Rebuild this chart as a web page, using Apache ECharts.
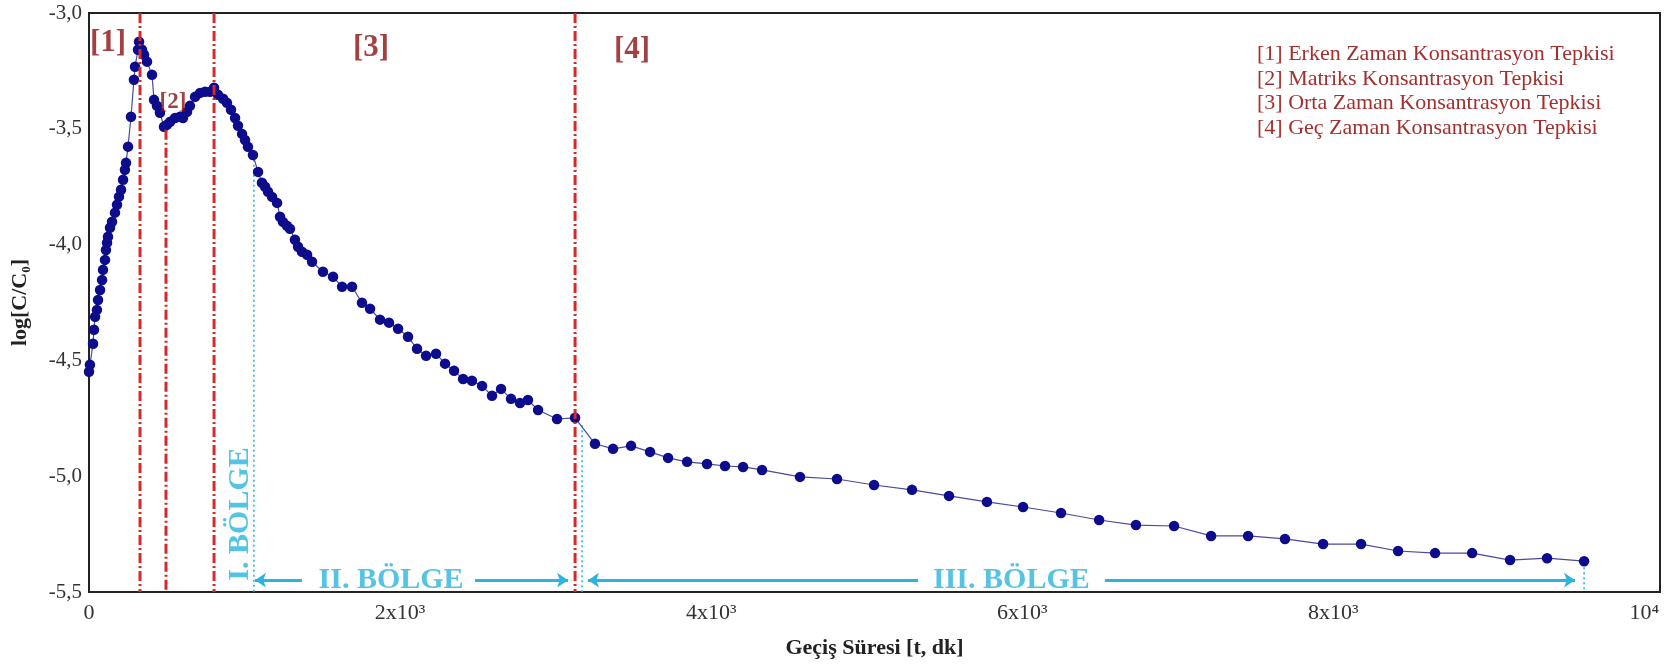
<!DOCTYPE html>
<html>
<head>
<meta charset="utf-8">
<script src="https://cdn.jsdelivr.net/npm/echarts@6/dist/echarts.min.js"></script>
<style>
html,body{margin:0;padding:0;background:#fff;}
#chart{width:1675px;height:664px;}
</style>
</head>
<body>
<div id="chart"></div>
<script>
// ---- data ----
const timeMin = [0,6,26,32,39,51,58,71,84,90,
  103,109,116,122,135,148,167,180,193,206,
  219,231,238,251,270,289,296,315,322,341,
  354,373,405,418,437,456,482,501,521,553,
  585,604,630,649,682,714,746,778,804,829,
  862,887,913,939,958,984,1003,1022,1054,1087,
  1112,1132,1151,1177,1209,1228,1247,1273,1292,1324,
  1344,1369,1402,1434,1504,1569,1627,1691,1755,1807,
  1871,1929,1987,2051,2109,2167,2231,2289,2347,2405,
  2462,2527,2591,2649,2713,2771,2822,2887,3009,3125,
  3253,3369,3485,3607,3723,3845,3973,4089,4205,4327,
  4571,4809,5047,5291,5529,5773,6005,6249,6494,6731,
  6976,7214,7452,7689,7934,8178,8416,8654,8892,9136,
  9374,9612];
const logConc = [-4.549,-4.519,-4.428,-4.368,-4.312,-4.282,-4.239,-4.196,-4.153,-4.109,
  -4.066,-4.023,-3.992,-3.966,-3.927,-3.901,-3.862,-3.828,-3.793,-3.763,
  -3.720,-3.677,-3.647,-3.577,-3.448,-3.288,-3.232,-3.159,-3.124,-3.159,
  -3.180,-3.210,-3.267,-3.375,-3.401,-3.431,-3.491,-3.483,-3.470,-3.453,
  -3.448,-3.453,-3.427,-3.401,-3.362,-3.345,-3.340,-3.340,-3.323,-3.353,
  -3.370,-3.388,-3.418,-3.453,-3.487,-3.522,-3.548,-3.578,-3.613,-3.686,
  -3.733,-3.750,-3.772,-3.794,-3.820,-3.880,-3.902,-3.919,-3.932,-3.979,
  -4.009,-4.031,-4.044,-4.074,-4.117,-4.139,-4.182,-4.182,-4.251,-4.277,
  -4.324,-4.337,-4.363,-4.398,-4.450,-4.480,-4.471,-4.514,-4.545,-4.580,
  -4.588,-4.610,-4.653,-4.623,-4.666,-4.684,-4.671,-4.714,-4.753,-4.748,
  -4.860,-4.882,-4.869,-4.895,-4.921,-4.938,-4.947,-4.956,-4.960,-4.973,
  -5.003,-5.012,-5.038,-5.059,-5.085,-5.111,-5.133,-5.159,-5.189,-5.211,
  -5.215,-5.258,-5.258,-5.271,-5.293,-5.293,-5.323,-5.332,-5.332,-5.362,
  -5.354,-5.367];

const yTicks = [-5.5, -5.0, -4.5, -4.0, -3.5, -3.0];
const xTickLabels = {0:'0', 2000:'2x10³', 4000:'4x10³', 6000:'6x10³', 8000:'8x10³', 10000:'10⁴'};

// stage boundary lines (red dash-dot): x and starting y
const stageLineX = [328, 495, 804, 3125];
const stageLineTop = [-3.0, -3.504, -3.0, -3.0];
// stage labels
const stageLabels = ['[1]', '[2]', '[3]', '[4]'];
const stageLabelX = [122, 540, 1813, 3491];
const stageLabelY = [-3.13, -3.385, -3.15, -3.158];

// region (BÖLGE) dotted boundaries
const regionLineX = [1060, 3170, 9612];
const regionLineTop = [-3.634, -4.78, -5.372];
// region arrows [from, to] (arrow head at "to")
const arrowFrom = [1369, 2482, 5330, 6532];
const arrowTo = [1067, 3080, 3208, 9554];
const arrowY = -5.449;
// region labels
const regionLabels = ['I. BÖLGE', 'II. BÖLGE', 'III. BÖLGE'];
const regionLabelX = [971, 1942, 5930];
const regionLabelY = [-5.163, -5.449, -5.449];
const regionLabelRot = [90, 0, 0];

const legendLines = [
  '[1] Erken Zaman Konsantrasyon Tepkisi',
  '[2] Matriks Konsantrasyon Tepkisi',
  '[3] Orta Zaman Konsantrasyon Tepkisi',
  '[4] Geç Zaman Konsantrasyon Tepkisi'
];

// ---- build chart ----
const SERIF = '"Liberation Serif", "Times New Roman", "DejaVu Serif", serif';
const RED = '#d52a2a';
const CYAN = '#2bb4dd';
const DARKRED = '#8a1212';

const points = timeMin.map((t, i) => [t, logConc[i]]);

const series = [];
series.push({
  type: 'line',
  data: points,
  symbol: 'circle',
  symbolSize: 10.5,
  itemStyle: {color: '#0c0c8c'},
  lineStyle: {color: '#4a4a9e', width: 1.2},
  z: 3,
  silent: true
});

stageLineX.forEach((x, i) => {
  series.push({
    type: 'line',
    data: [[x, stageLineTop[i]], [x, -5.5]],
    symbol: 'none',
    lineStyle: {color: RED, width: 3, type: [10, 3, 2, 3]},
    z: 4, silent: true
  });
});

regionLineX.forEach((x, i) => {
  series.push({
    type: 'line',
    data: [[x, regionLineTop[i]], [x, -5.5]],
    symbol: 'none',
    lineStyle: {color: CYAN, width: 1.6, type: [2, 3]},
    z: 2, silent: true
  });
});

series.push({
  type: 'lines',
  coordinateSystem: 'cartesian2d',
  polyline: false,
  symbol: ['none', 'arrow'],
  symbolSize: [0, 11],
  lineStyle: {color: CYAN, width: 3, opacity: 1, curveness: 0},
  data: arrowFrom.map((f, i) => ({coords: [[f, arrowY], [arrowTo[i], arrowY]]})),
  z: 4, silent: true
});

series.push({
  type: 'scatter',
  symbolSize: 0,
  silent: true,
  z: 5,
  data: stageLabels.map((s, i) => ({
    value: [stageLabelX[i], stageLabelY[i]],
    label: {
      show: true, position: 'inside', formatter: s,
      fontFamily: SERIF, fontWeight: 'bold',
      fontSize: i === 1 ? 23 : 31, color: DARKRED
    }
  }))
});

series.push({
  type: 'scatter',
  symbolSize: 0,
  silent: true,
  z: 5,
  data: regionLabels.map((s, i) => ({
    value: [regionLabelX[i], regionLabelY[i]],
    label: {
      show: true, position: 'inside', formatter: s, rotate: regionLabelRot[i],
      fontFamily: SERIF, fontWeight: 'bold', fontSize: 30, color: CYAN
    }
  }))
});

const chart = echarts.init(document.getElementById('chart'), null, {renderer: 'canvas'});
chart.setOption({
  backgroundColor: '#ffffff',
  animation: false,
  grid: {
    left: 89, right: 15, top: 13, bottom: 72,
    containLabel: false, outerBoundsMode: 'none',
    show: true, borderColor: '#222', borderWidth: 2, backgroundColor: 'transparent'
  },
  xAxis: {
    type: 'value',
    min: 0, max: 10100, interval: 2000,
    name: 'Geçiş Süresi [t, dk]',
    nameLocation: 'middle', nameGap: 45,
    nameTextStyle: {fontFamily: SERIF, fontWeight: 'bold', fontSize: 22, color: '#222'},
    axisLine: {show: true, lineStyle: {color: '#222', width: 2}},
    axisTick: {show: false},
    splitLine: {show: false},
    axisLabel: {
      fontFamily: SERIF, fontSize: 22, color: '#333', margin: 10,
      showMaxLabel: false,
      formatter: v => xTickLabels[v] !== undefined ? xTickLabels[v] : ''
    }
  },
  yAxis: {
    type: 'value',
    min: yTicks[0], max: yTicks[yTicks.length - 1], interval: 0.5,
    name: 'log[C/C₀]',
    nameLocation: 'middle', nameGap: 58,
    nameTextStyle: {fontFamily: SERIF, fontWeight: 'bold', fontSize: 22, color: '#222'},
    axisLine: {show: true, lineStyle: {color: '#222', width: 2}},
    axisTick: {show: false},
    splitLine: {show: false},
    axisLabel: {
      fontFamily: SERIF, fontSize: 21, color: '#333', margin: 7,
      formatter: v => v.toFixed(1).replace('.', ',')
    }
  },
  graphic: [{
    type: 'text',
    left: 1257, top: 42,
    silent: true,
    style: {
      text: legendLines.join('\n'),
      fontFamily: SERIF, fontSize: 22, lineHeight: 24.5,
      fill: '#a3302e'
    }
  }],
  series: series
});
</script>
</body>
</html>
